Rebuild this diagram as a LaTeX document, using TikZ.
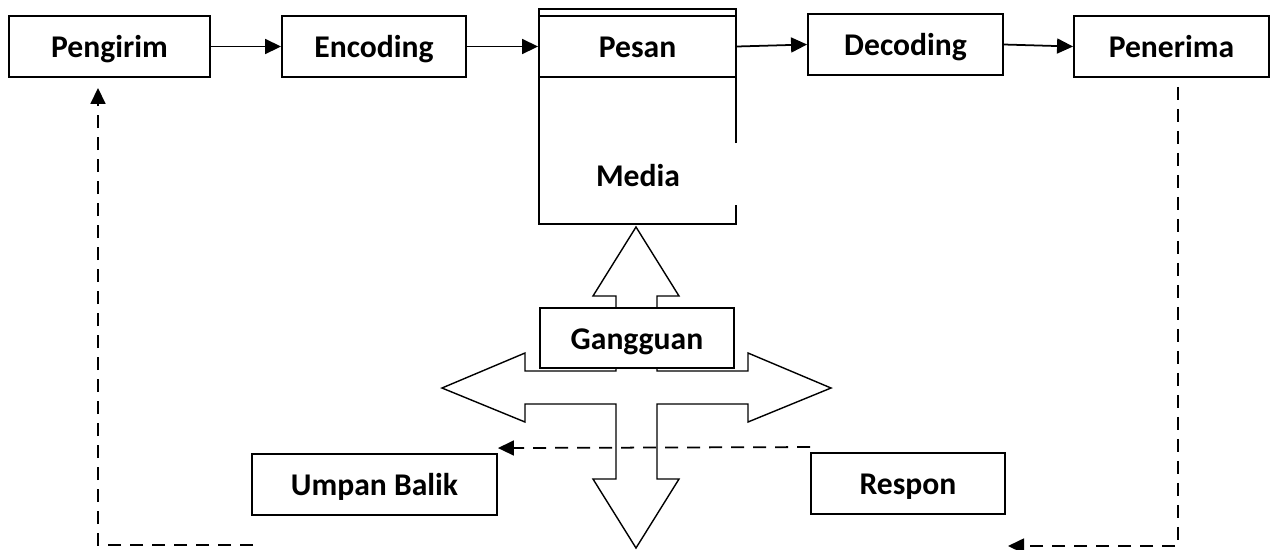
\documentclass[tikz,border=0pt]{standalone}
\usepackage{fontspec}
\setmainfont{Carlito}
\usetikzlibrary{arrows.meta}
\begin{document}
\begin{tikzpicture}[x=0.02cm,y=-0.02cm,>={Triangle[length=0.32cm,width=0.3cm]},
		font=\bfseries\fontsize{18}{22}\selectfont,
		every node/.style={text height=16pt,text depth=3pt},
		kotak/.style={draw,line width=1.1pt,fill=white,minimum height=1.22cm,inner sep=0pt},
		alur/.style={->,line width=1pt},
		balik/.style={->,line width=1pt,dash pattern=on 0.26cm off 0.18cm}]
		\useasboundingbox (0,0) rectangle (1275,549);
		% frame of the medium
		\draw [line width=1.1pt] (736,143) -- (736,9) -- (539,9) -- (539,224) -- (736,224) -- (736,205);
		\node (media) at (638,175) {Media};
		% top row
		\node [kotak,minimum width=4.02cm] (pengirim) at (109.5,46.5) {Pengirim};
		\node [kotak,minimum width=3.68cm] (encoding) at (374,46.5) {Encoding};
		\node [kotak,minimum width=3.94cm] (pesan) at (637.5,46.5) {Pesan};
		\node [kotak,minimum width=3.9cm] (decoding) at (905.5,44.5) {Decoding};
		\node [kotak,minimum width=3.9cm] (penerima) at (1171.5,46.5) {Penerima};
		\draw [alur] (pengirim) -- (encoding);
		\draw [alur] (encoding) -- (pesan);
		\draw [alur] (pesan.east) -- (decoding.west);
		\draw [alur] (decoding.east) -- (penerima.west);
		% block arrows round the noise
		\draw [line width=0.8pt,fill=white] (636,227) -- (679,296) -- (657,296) -- (657,371)
			-- (748,371) -- (748,353) -- (831,388) -- (748,422) -- (748,404) -- (657,404)
			-- (657,479) -- (679,479) -- (636,548) -- (593,479) -- (616,479) -- (616,404)
			-- (525,404) -- (525,422) -- (442,388) -- (525,353) -- (525,371) -- (616,371)
			-- (616,296) -- (593,296) -- cycle;
		\node [kotak,minimum width=3.88cm,minimum height=1.2cm] (gangguan) at (637,338) {Gangguan};
		% bottom row
		\node [kotak,minimum width=4.9cm] (umpan) at (374.5,484.5) {Umpan Balik};
		\node [kotak,minimum width=3.88cm] (respon) at (908,483.5) {Respon};
		% feedback loop
		\coordinate (ujungkiri) at (253,545);
		\coordinate (ujungkanan) at (1008,546);
		\draw [balik] ([yshift=0.1cm]respon.north west) -- ([yshift=0.1cm]umpan.north east);
		\draw [balik] (ujungkiri) -| ([xshift=-0.23cm,yshift=-0.2cm]pengirim.south);
		\draw [balik] ([xshift=0.13cm,yshift=-0.18cm]penerima.south) |- (ujungkanan);
	\end{tikzpicture}
\end{document}
